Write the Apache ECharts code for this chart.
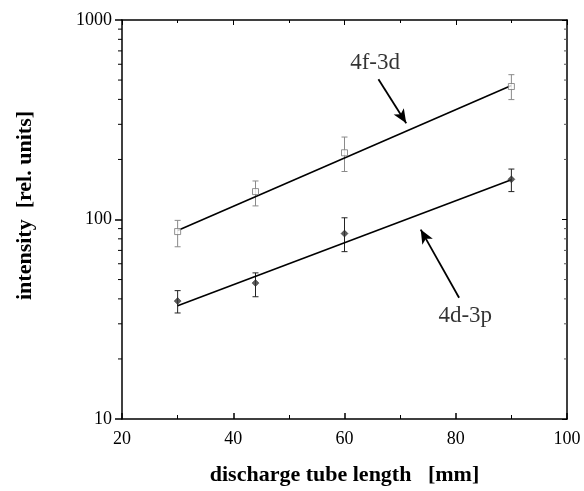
<!DOCTYPE html>
<html>
<head>
<meta charset="utf-8">
<script src="https://cdn.jsdelivr.net/npm/echarts@6/dist/echarts.min.js"></script>
<style>
  html, body { margin: 0; padding: 0; background: #fff; }
  #chart { width: 584px; height: 491px; }
</style>
</head>
<body>
<div id="chart"></div>
<script>
  // measured points (x in mm), with error bars
  var xPoints = [30, 44, 60, 90]
  var f3dValues = [87, 138, 216, 464]
  var f3dLow = [73, 117, 174, 399]
  var f3dHigh = [99, 156, 259, 532]
  var d3pValues = [39, 48, 85, 159]
  var d3pLow = [34, 41, 69, 138]
  var d3pHigh = [44, 54, 102, 179]

  // fitted lines
  var fitX = [30, 90]
  var f3dFit = [88, 470]
  var d3pFit = [37, 158]

  // annotations: label position and arrow tail -> tip
  var annotationNames = ['4f-3d', '4d-3p']
  var annotationPos = [[65.5, 607], [81.7, 32.7]]
  var f3dArrow = [[66.1, 505], [71.1, 304]]
  var d3pArrow = [[80.6, 40.5], [73.7, 89]]

  // log minor ticks
  var yMinor = [20, 30, 40, 50, 60, 70, 80, 90, 200, 300, 400, 500, 600, 700, 800, 900]

  var serif = 'Liberation Serif'

  function pairs(xs, ys) {
    return xs.map(function (x, i) { return [x, ys[i]] })
  }

  function errorBars(color) {
    return function (params, api) {
      var top = api.coord([api.value(0), api.value(2)])
      var bot = api.coord([api.value(0), api.value(1)])
      var style = { stroke: color, lineWidth: 1 }
      return {
        type: 'group',
        children: [
          { type: 'line', shape: { x1: top[0], y1: top[1], x2: bot[0], y2: bot[1] }, style: style },
          { type: 'line', shape: { x1: top[0] - 3, y1: top[1], x2: top[0] + 3, y2: top[1] }, style: style },
          { type: 'line', shape: { x1: bot[0] - 3, y1: bot[1], x2: bot[0] + 3, y2: bot[1] }, style: style }
        ]
      }
    }
  }

  var chart = echarts.init(document.getElementById('chart'))
  chart.setOption({
    backgroundColor: '#fff',
    animation: false,
    grid: {
      left: 122,
      right: 17,
      top: 20,
      bottom: 70
    },
    xAxis: [{
      type: 'value',
      min: 20,
      max: 100,
      interval: 20,
      name: 'discharge tube length   [mm]',
      nameLocation: 'middle',
      nameGap: 45,
      nameTextStyle: { fontFamily: serif, fontWeight: 'bold', fontSize: 22, color: '#000' },
      axisLine: { lineStyle: { color: '#000', width: 1.5 } },
      axisTick: { inside: true, length: 6, lineStyle: { color: '#000', width: 1.5 } },
      minorTick: { show: true, splitNumber: 2, length: 4, lineStyle: { color: '#000', width: 1 } },
      axisLabel: { fontFamily: serif, fontSize: 18, color: '#000', margin: 11 },
      splitLine: { show: false }
    }, {
      type: 'value',
      position: 'top',
      min: 20,
      max: 100,
      interval: 20,
      axisLine: { lineStyle: { color: '#000', width: 1.5 } },
      axisTick: { inside: true, length: 5, lineStyle: { color: '#000', width: 1 } },
      minorTick: { show: true, splitNumber: 2, length: 3, lineStyle: { color: '#000', width: 1 } },
      axisLabel: { show: false },
      splitLine: { show: false }
    }],
    yAxis: [{
      type: 'log',
      logBase: 10,
      min: 10,
      max: 1000,
      name: 'intensity  [rel. units]',
      nameLocation: 'middle',
      nameGap: 86,
      nameTextStyle: { fontFamily: serif, fontWeight: 'bold', fontSize: 22, color: '#000', padding: [0, 0, 0, 28] },
      axisLine: { lineStyle: { color: '#000', width: 1.5 } },
      axisTick: { inside: false, length: 7, lineStyle: { color: '#000', width: 1.5 } },
      axisLabel: {
        fontFamily: serif, fontSize: 18, color: '#000', margin: 10,
        formatter: function (v) { return String(v) }
      },
      splitLine: { show: false }
    }, {
      type: 'log',
      logBase: 10,
      min: 10,
      max: 1000,
      position: 'right',
      axisLine: { lineStyle: { color: '#000', width: 1.5 } },
      axisTick: { inside: true, length: 5, lineStyle: { color: '#000', width: 1 } },
      axisLabel: { show: false },
      splitLine: { show: false }
    }],
    series: [{
      // minor ticks on the log axis (left outside, right inside)
      type: 'custom',
      silent: true,
      clip: false,
      data: yMinor.map(function (v) { return [20, v] }),
      renderItem: function (params, api) {
        var l = api.coord([20, api.value(1)])
        var r = api.coord([100, api.value(1)])
        return {
          type: 'group',
          children: [
            { type: 'line', shape: { x1: l[0] - 4, y1: l[1], x2: l[0], y2: l[1] }, style: { stroke: '#000', lineWidth: 1 } },
            { type: 'line', shape: { x1: r[0] - 3, y1: r[1], x2: r[0], y2: r[1] }, style: { stroke: '#555', lineWidth: 1 } }
          ]
        }
      }
    }, {
      name: '4f-3d fit',
      type: 'line',
      data: pairs(fitX, f3dFit),
      symbol: 'none',
      lineStyle: { color: '#000', width: 1.6 },
      markLine: {
        silent: true,
        symbol: ['none', 'arrow'],
        symbolSize: [9, 14],
        label: { show: false },
        lineStyle: { color: '#000', width: 1.8, type: 'solid' },
        data: [[{ coord: f3dArrow[0] }, { coord: f3dArrow[1] }]]
      }
    }, {
      name: '4d-3p fit',
      type: 'line',
      data: pairs(fitX, d3pFit),
      symbol: 'none',
      lineStyle: { color: '#000', width: 1.6 },
      markLine: {
        silent: true,
        symbol: ['none', 'arrow'],
        symbolSize: [9, 14],
        label: { show: false },
        lineStyle: { color: '#000', width: 1.8, type: 'solid' },
        data: [[{ coord: d3pArrow[0] }, { coord: d3pArrow[1] }]]
      }
    }, {
      type: 'custom',
      data: xPoints.map(function (x, i) { return [x, f3dLow[i], f3dHigh[i]] }),
      renderItem: errorBars('#8a8a8a'),
      z: 3
    }, {
      type: 'custom',
      data: xPoints.map(function (x, i) { return [x, d3pLow[i], d3pHigh[i]] }),
      renderItem: errorBars('#222'),
      z: 3
    }, {
      name: '4f-3d',
      type: 'scatter',
      data: pairs(xPoints, f3dValues),
      symbol: 'rect',
      symbolSize: 6,
      itemStyle: { color: '#fff', borderColor: '#777', borderWidth: 1 },
      z: 4
    }, {
      name: '4d-3p',
      type: 'scatter',
      data: pairs(xPoints, d3pValues),
      symbol: 'diamond',
      symbolSize: 7,
      itemStyle: { color: '#333', borderColor: '#111', borderWidth: 0.5 },
      z: 4
    }, {
      // line labels
      type: 'scatter',
      silent: true,
      symbolSize: 0,
      data: annotationPos.map(function (p, i) { return { value: p, name: annotationNames[i] } }),
      label: {
        show: true,
        position: 'inside',
        formatter: '{b}',
        fontFamily: serif,
        fontSize: 23,
        color: '#000',
        textBorderWidth: 0
      },
      emphasis: { disabled: true }
    }]
  })
</script>
</body>
</html>
